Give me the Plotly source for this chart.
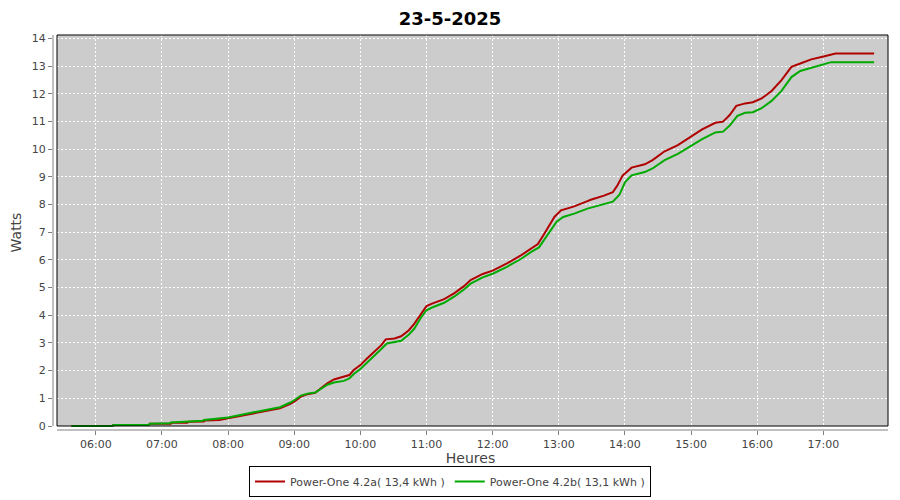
import plotly.graph_objects as go

DAY = "2025-05-23 "

red_times = ["05:38", "06:15", "06:16", "06:48", "06:49", "07:08", "07:09", "07:23", "07:24", "07:38",
             "07:39", "07:52", "08:00", "08:20", "08:35", "08:47", "08:56", "09:00", "09:06", "09:12",
             "09:19", "09:24", "09:30", "09:36", "09:45", "09:50", "09:54", "10:00", "10:06", "10:13",
             "10:19", "10:23", "10:31", "10:37", "10:44", "10:49", "10:55", "11:00", "11:05", "11:16",
             "11:25", "11:34", "11:40", "11:51", "12:00", "12:13", "12:26", "12:35", "12:41", "12:47",
             "12:56", "13:02", "13:14", "13:26", "13:29", "13:41", "13:49", "13:53", "13:58", "14:06",
             "14:18", "14:25", "14:36", "14:48", "14:57", "15:10", "15:22", "15:29", "15:35", "15:41",
             "15:49", "15:56", "16:04", "16:13", "16:22", "16:31", "16:39", "16:49", "17:01", "17:11",
             "17:46"]
red_values = [0.00, 0.00, 0.04, 0.04, 0.08, 0.08, 0.12, 0.12, 0.15, 0.16,
              0.20, 0.22, 0.28, 0.43, 0.55, 0.64, 0.79, 0.88, 1.06, 1.15,
              1.20, 1.36, 1.54, 1.68, 1.78, 1.84, 2.02, 2.20, 2.44, 2.68,
              2.92, 3.13, 3.16, 3.24, 3.46, 3.70, 4.06, 4.33, 4.42, 4.58,
              4.79, 5.05, 5.27, 5.49, 5.61, 5.87, 6.17, 6.41, 6.57, 6.95,
              7.55, 7.79, 7.93, 8.12, 8.17, 8.32, 8.44, 8.68, 9.05, 9.33,
              9.45, 9.60, 9.92, 10.14, 10.38, 10.71, 10.95, 10.99, 11.23, 11.56,
              11.65, 11.69, 11.83, 12.10, 12.49, 12.97, 13.09, 13.24, 13.35, 13.45,
              13.45]

green_times = ["05:38", "06:15", "06:16", "06:48", "06:49", "07:07", "07:08", "07:22", "07:23", "07:37",
               "07:38", "07:52", "08:00", "08:20", "08:35", "08:47", "08:56", "09:00", "09:06", "09:12",
               "09:19", "09:24", "09:30", "09:36", "09:45", "09:50", "09:54", "10:00", "10:06", "10:13",
               "10:19", "10:24", "10:31", "10:37", "10:44", "10:49", "10:55", "11:00", "11:05", "11:16",
               "11:25", "11:34", "11:40", "11:51", "12:00", "12:13", "12:26", "12:35", "12:42", "12:48",
               "12:58", "13:04", "13:14", "13:26", "13:41", "13:49", "13:55", "14:00", "14:06", "14:18",
               "14:25", "14:36", "14:48", "14:57", "15:10", "15:22", "15:29", "15:35", "15:42", "15:49",
               "15:56", "16:04", "16:13", "16:22", "16:31", "16:39", "16:49", "17:01", "17:07", "17:46"]
green_values = [0.00, 0.00, 0.04, 0.04, 0.08, 0.10, 0.13, 0.15, 0.17, 0.19,
                0.22, 0.26, 0.31, 0.47, 0.59, 0.68, 0.84, 0.93, 1.10, 1.17,
                1.21, 1.33, 1.49, 1.57, 1.63, 1.72, 1.88, 2.06, 2.28, 2.53,
                2.78, 2.98, 3.02, 3.08, 3.30, 3.52, 3.92, 4.18, 4.28, 4.45,
                4.67, 4.93, 5.14, 5.37, 5.50, 5.75, 6.04, 6.29, 6.45, 6.80,
                7.38, 7.55, 7.67, 7.85, 8.02, 8.10, 8.35, 8.80, 9.05, 9.17,
                9.30, 9.60, 9.83, 10.05, 10.36, 10.60, 10.63, 10.85, 11.20, 11.31,
                11.33, 11.48, 11.74, 12.10, 12.60, 12.82, 12.93, 13.06, 13.14, 13.14]

series_names = ["Power-One 4.2a( 13,4 kWh )", "Power-One 4.2b( 13,1 kWh )"]
series_colors = ["#B00000", "#00AA00"]
title_text = "23-5-2025"
x_title = "Heures"
y_title = "Watts"

FONT = "DejaVu Sans"
# the page body adds an 8px offset, so the figure is 892x492 and fills the 900x500 window
W, H = 892, 492
L, R, T, B = 45, 12, 27, 70
pw, ph = W - L - R, H - T - B
ox = 4 / pw
oy = 4 / ph

fig = go.Figure()
fig.add_trace(go.Scatter(x=[DAY + t for t in red_times], y=red_values, mode="lines",
                         name=series_names[0], line=dict(color=series_colors[0], width=2)))
fig.add_trace(go.Scatter(x=[DAY + t for t in green_times], y=green_values, mode="lines",
                         name=series_names[1], line=dict(color=series_colors[1], width=2)))

axis_common = dict(
    showline=False, zeroline=False, ticks="outside", ticklen=4, tickcolor="#808080",
    tickfont=dict(family=FONT, size=11, color="#444444"), automargin=False,
    showgrid=True, gridcolor="#FFFFFF", gridwidth=1, griddash="2px,2px",
)

fig.update_layout(
    width=W, height=H,
    margin=dict(l=L, r=R, t=T, b=B, autoexpand=False),
    paper_bgcolor="#FFFFFF", plot_bgcolor="#FFFFFF",
    title=dict(text=title_text, x=442 / W, xref="container", xanchor="center",
               y=1 - 10.5 / H, yref="container", yanchor="middle", automargin=False,
               font=dict(family=FONT, size=18, color="#000000", weight="bold")),
    xaxis=dict(type="date", range=[DAY + "05:21:12", DAY + "17:58:36"],
               tickformat="%H:%M", dtick=3600000, tick0=DAY + "06:00",
               title=dict(text=x_title, font=dict(family=FONT, size=14, color="#444444"), standoff=13),
               **axis_common),
    yaxis=dict(range=[-0.144, 14.12], dtick=1, tick0=0,
               title=dict(text=y_title, font=dict(family=FONT, size=14, color="#444444"), standoff=10),
               **axis_common),
    legend=dict(orientation="h", x=442 / W, xref="container", xanchor="center",
                y=3 / H, yref="container", yanchor="bottom",
                bordercolor="#000000", borderwidth=1, bgcolor="#FFFFFF",
                font=dict(family=FONT, size=11, color="#444444"),
                itemwidth=30, tracegroupgap=0),
    showlegend=True,
    shapes=[
        dict(type="rect", xref="paper", yref="paper", x0=ox, x1=1, y0=oy, y1=1,
             fillcolor="#CCCCCC", line=dict(width=0), layer="below"),
        dict(type="rect", xref="paper", yref="paper", x0=ox, x1=1, y0=oy, y1=1,
             fillcolor="rgba(0,0,0,0)", line=dict(color="#000000", width=1), layer="above"),
        dict(type="line", xref="paper", yref="paper", x0=0, x1=0, y0=oy, y1=1,
             line=dict(color="#808080", width=1)),
        dict(type="line", xref="paper", yref="paper", x0=ox, x1=1, y0=0, y1=0,
             line=dict(color="#808080", width=1)),
    ],
)

fig.write_html("out.html")
